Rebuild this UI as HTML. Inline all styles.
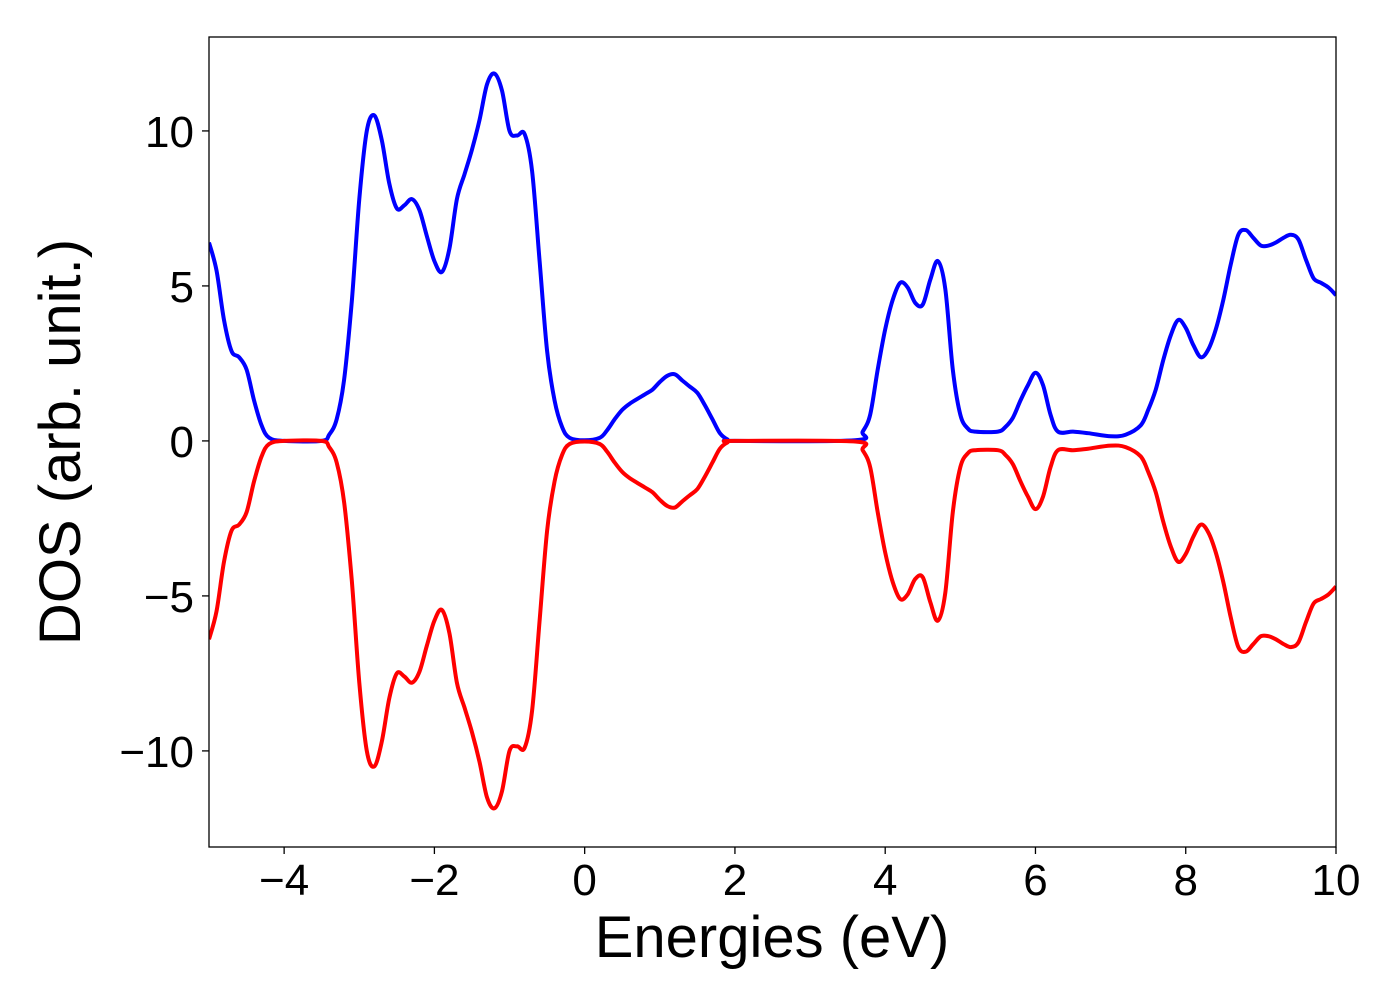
<!DOCTYPE html>
<html><head><meta charset="utf-8"><style>
html,body{margin:0;padding:0;background:#fff;}
svg{display:block;font-family:"Liberation Sans","DejaVu Sans",sans-serif;}
</style></head><body>
<svg id="chart" width="1400" height="1000" viewBox="0 0 1400 1000">
<rect x="0" y="0" width="1400" height="1000" fill="#fff"/>
<g id="grid"></g>
<g id="series" clip-path="url(#clip)"></g>
<defs><clipPath id="clip"><rect x="209" y="37" width="1127" height="810"/></clipPath></defs>
<rect x="209" y="37" width="1127" height="810" fill="none" stroke="#000" stroke-width="1.3"/>
<g id="axes"></g>
<text x="772" y="957" font-size="58" text-anchor="middle">Energies (eV)</text>
<text transform="translate(80,442) rotate(-90)" font-size="58" text-anchor="middle">DOS (arb. unit.)</text>
</svg>
<script>
const energies = [-5,-4.9,-4.8,-4.7,-4.6,-4.5,-4.4,-4.3,-4.2,-4.0,-3.5,-3.4,-3.3,-3.2,-3.1,-3.0,-2.9,-2.8,-2.7,-2.6,-2.5,-2.4,-2.3,-2.2,-2.1,-2.0,-1.9,-1.8,-1.7,-1.6,-1.5,-1.4,-1.3,-1.2,-1.1,-1.0,-0.9,-0.8,-0.7,-0.6,-0.5,-0.4,-0.3,-0.2,0,0.2,0.3,0.4,0.5,0.6,0.8,0.9,1.0,1.1,1.2,1.3,1.4,1.5,1.6,1.7,1.8,1.9,2.0,3.6,3.7,3.8,3.9,4.0,4.1,4.2,4.3,4.4,4.5,4.6,4.7,4.8,4.9,5.0,5.1,5.2,5.5,5.6,5.7,5.8,5.9,6.0,6.1,6.2,6.3,6.5,6.7,7.0,7.2,7.4,7.5,7.6,7.7,7.8,7.9,8.0,8.1,8.2,8.3,8.4,8.5,8.6,8.7,8.8,8.9,9.0,9.1,9.2,9.3,9.4,9.5,9.6,9.7,9.8,9.9,10];
const dosUp = [6.4,5.5,3.9,2.9,2.7,2.3,1.3,0.5,0.1,0,0,0.2,0.7,2,4.5,7.8,10,10.5,9.7,8.3,7.5,7.6,7.8,7.45,6.6,5.8,5.45,6.2,7.8,8.6,9.4,10.35,11.5,11.85,11.3,10,9.85,9.9,8.7,5.8,2.9,1.3,0.45,0.1,0.02,0.1,0.35,0.7,1.0,1.2,1.5,1.65,1.9,2.1,2.15,1.95,1.75,1.55,1.15,0.7,0.25,0.05,0,0.02,0.3,0.85,2.3,3.6,4.55,5.1,4.95,4.45,4.4,5.2,5.8,4.9,2.3,0.85,0.4,0.3,0.3,0.45,0.75,1.3,1.8,2.2,1.8,0.85,0.3,0.3,0.25,0.15,0.2,0.5,1,1.65,2.6,3.4,3.9,3.65,3.1,2.7,2.95,3.6,4.55,5.7,6.65,6.8,6.55,6.3,6.3,6.4,6.55,6.65,6.5,5.85,5.25,5.1,4.95,4.7];
const dosDown = [-6.4,-5.5,-3.9,-2.9,-2.7,-2.3,-1.3,-0.5,-0.1,0,0,-0.2,-0.7,-2,-4.5,-7.8,-10,-10.5,-9.7,-8.3,-7.5,-7.6,-7.8,-7.45,-6.6,-5.8,-5.45,-6.2,-7.8,-8.6,-9.4,-10.35,-11.5,-11.85,-11.3,-10,-9.85,-9.9,-8.7,-5.8,-2.9,-1.3,-0.45,-0.1,-0.02,-0.1,-0.35,-0.7,-1.0,-1.2,-1.5,-1.65,-1.9,-2.1,-2.15,-1.95,-1.75,-1.55,-1.15,-0.7,-0.25,-0.05,0,-0.02,-0.3,-0.85,-2.3,-3.6,-4.55,-5.1,-4.95,-4.45,-4.4,-5.2,-5.8,-4.9,-2.3,-0.85,-0.4,-0.3,-0.3,-0.45,-0.75,-1.3,-1.8,-2.2,-1.8,-0.85,-0.3,-0.3,-0.25,-0.15,-0.2,-0.5,-1,-1.65,-2.6,-3.4,-3.9,-3.65,-3.1,-2.7,-2.95,-3.6,-4.55,-5.7,-6.65,-6.8,-6.55,-6.3,-6.3,-6.4,-6.55,-6.65,-6.5,-5.85,-5.25,-5.1,-4.95,-4.7];
const xTicks = [-4,-2,0,2,4,6,8,10];
const yTicks = [-10,-5,0,5,10];

const NS = "http://www.w3.org/2000/svg";
const xMin=-5, xMax=10, yMin=-13.1, yMax=13.03;
const L=209, R=1336, T=37, B=847;
function sx(v){return L+(v-xMin)/(xMax-xMin)*(R-L);}
function sy(v){return B-(v-yMin)/(yMax-yMin)*(B-T);}
function fmt(v){return v<0?"\u2212"+Math.abs(v):String(v);}

const axes=document.getElementById('axes');
xTicks.forEach(t=>{
  const l=document.createElementNS(NS,'line');
  l.setAttribute('x1',sx(t));l.setAttribute('x2',sx(t));l.setAttribute('y1',B);l.setAttribute('y2',B+7);
  l.setAttribute('stroke','#000');l.setAttribute('stroke-width','1.3');
  
  
  axes.appendChild(l);
  const tx=document.createElementNS(NS,'text');
  tx.setAttribute('x',sx(t));tx.setAttribute('y',B+48);tx.setAttribute('font-size','44');tx.setAttribute('text-anchor','middle');
  tx.textContent=fmt(t);
  
  
  axes.appendChild(tx);
});
yTicks.forEach(t=>{
  const l=document.createElementNS(NS,'line');
  l.setAttribute('x1',L-7);l.setAttribute('x2',L);l.setAttribute('y1',sy(t));l.setAttribute('y2',sy(t));
  l.setAttribute('stroke','#000');l.setAttribute('stroke-width','1.3');
  
  
  axes.appendChild(l);
  const tx=document.createElementNS(NS,'text');
  tx.setAttribute('x',L-15);tx.setAttribute('y',sy(t)+16);tx.setAttribute('font-size','44');tx.setAttribute('text-anchor','end');
  tx.textContent=fmt(t);
  
  
  axes.appendChild(tx);
});

function smoothPath(xs,ys){
  const p=xs.map((x,i)=>[sx(x),sy(ys[i])]);
  let d="M"+p[0][0].toFixed(1)+","+p[0][1].toFixed(1);
  for(let i=0;i<p.length-1;i++){
    const p0=p[Math.max(0,i-1)],p1=p[i],p2=p[i+1],p3=p[Math.min(p.length-1,i+2)];
    const c1=[p1[0]+(p2[0]-p0[0])/6,p1[1]+(p2[1]-p0[1])/6];
    const c2=[p2[0]-(p3[0]-p1[0])/6,p2[1]-(p3[1]-p1[1])/6];
    d+="C"+c1[0].toFixed(1)+","+c1[1].toFixed(1)+" "+c2[0].toFixed(1)+","+c2[1].toFixed(1)+" "+p2[0].toFixed(1)+","+p2[1].toFixed(1);
  }
  return d;
}
const series=document.getElementById('series');
const up=document.createElementNS(NS,'path');
up.setAttribute('d',smoothPath(energies,dosUp));
up.setAttribute('fill','none');up.setAttribute('stroke','#0000ff');up.setAttribute('stroke-width','4');


series.appendChild(up);
const dn=document.createElementNS(NS,'path');
dn.setAttribute('d',smoothPath(energies,dosDown));
dn.setAttribute('fill','none');dn.setAttribute('stroke','#ff0000');dn.setAttribute('stroke-width','4');


series.appendChild(dn);
</script>
</body></html>
